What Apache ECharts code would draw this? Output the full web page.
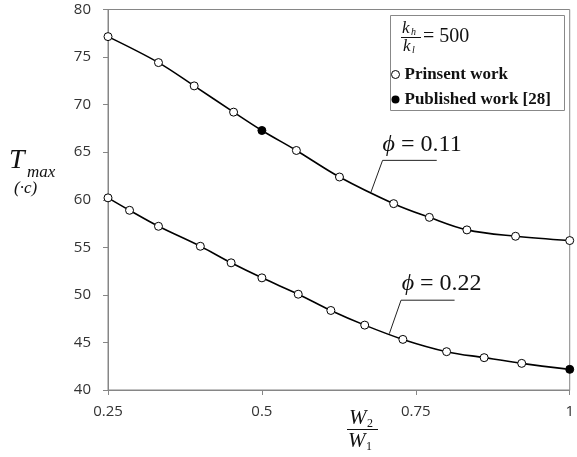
<!DOCTYPE html>
<html>
<head>
<meta charset="utf-8">
<script src="https://cdn.jsdelivr.net/npm/echarts@6/dist/echarts.min.js"></script>
<style>
  html, body { margin: 0; padding: 0; background: #fff; }
  #chart-container { width: 577px; height: 457px; }
</style>
</head>
<body>
<div id="chart-container"></div>
<script>
var dom = document.getElementById("chart-container");
var myChart = echarts.init(dom, null, { renderer: "canvas" });

// W2/W1 ticks and T_max ticks
var xTicks = [0.25, 0.5, 0.75, 1];
var yRange = [40, 80];

// phi = 0.11 curve
var upperX = [0.25, 0.332, 0.39, 0.454, 0.5, 0.556, 0.626, 0.714, 0.772, 0.833, 0.912, 1];
var upperY = [77.15, 74.42, 71.97, 69.21, 67.28, 65.18, 62.39, 59.59, 58.15, 56.83, 56.16, 55.71];

// phi = 0.22 curve
var lowerX = [0.25, 0.285, 0.332, 0.4, 0.45, 0.5, 0.559, 0.612, 0.667, 0.729, 0.8, 0.861, 0.922, 1];
var lowerY = [60.2, 58.89, 57.21, 55.11, 53.37, 51.79, 50.07, 48.36, 46.82, 45.32, 44.03, 43.4, 42.8, 42.17];

// published work [28]
var publishedX = [0.5, 1];
var publishedY = [67.28, 42.17];

// annotation leaders: point on curve, elbow, end of underline
var phiLabels = ["0.11", "0.22"];
var leaders = [
  [[0.677, 60.77], [0.696, 64.14], [0.784, 64.14]],
  [[0.707, 45.92], [0.726, 49.44], [0.813, 49.44]],
];
var labelAnchors = [[0.696, 65.8], [0.727, 51.2]];

function zip(xs, ys) {
  return xs.map(function (x, i) { return [x, ys[i]]; });
}

var axisGray = "#868686";
var serif = "'Liberation Serif', 'DejaVu Serif', serif";

var curveStyle = {
  type: "line",
  name: "Prinsent work",
  smooth: 0.35,
  symbol: "circle",
  symbolSize: 8,
  lineStyle: { color: "#000", width: 1.6 },
  itemStyle: { color: "#fff", borderColor: "#000", borderWidth: 1 },
  z: 3,
};

var series = [
  Object.assign({}, curveStyle, { data: zip(upperX, upperY) }),
  Object.assign({}, curveStyle, { data: zip(lowerX, lowerY) }),
  {
    type: "scatter",
    name: "Published work [28]",
    symbol: "circle",
    symbolSize: 8,
    itemStyle: { color: "#000", opacity: 1 },
    data: zip(publishedX, publishedY),
    z: 5,
  },
];
leaders.forEach(function (pts) {
  series.push({
    type: "line",
    data: pts,
    symbol: "none",
    silent: true,
    lineStyle: { color: "#222", width: 1 },
    z: 2,
  });
});

var option = {
  animation: false,
  grid: {
    left: 108,
    right: 4,
    top: 9.5,
    bottom: 67,
    show: true,
    borderColor: axisGray,
    borderWidth: 1,
  },
  xAxis: {
    type: "value",
    min: xTicks[0],
    max: xTicks[xTicks.length - 1],
    interval: 0.25,
    splitLine: { show: false },
    axisLine: { lineStyle: { color: axisGray } },
    axisTick: { show: true, length: 5, lineStyle: { color: axisGray } },
    axisLabel: {
      color: "#333",
      fontSize: 15,
      fontFamily: "'Open Sans', sans-serif",
      margin: 14,
      formatter: function (v) { return String(v); },
    },
  },
  yAxis: {
    type: "value",
    min: yRange[0],
    max: yRange[1],
    interval: 5,
    splitLine: { show: false },
    axisLine: { show: true, lineStyle: { color: axisGray } },
    axisTick: { show: true, length: 5, lineStyle: { color: axisGray } },
    axisLabel: {
      color: "#333",
      fontSize: 15,
      fontFamily: "'Open Sans', sans-serif",
      margin: 17,
    },
  },
  legend: {
    orient: "vertical",
    left: 386,
    top: 61,
    itemWidth: 8,
    itemHeight: 8,
    itemGap: 8,
    textStyle: { fontFamily: serif, fontSize: 17, fontWeight: "bold", color: "#111" },
    data: [
      { name: "Prinsent work", icon: "circle", itemStyle: { color: "#fff", borderColor: "#000", borderWidth: 1 } },
      { name: "Published work [28]", icon: "circle", itemStyle: { color: "#000", opacity: 1 } },
    ],
  },
  series: series,
};

myChart.setOption(option);

// axis titles, legend frame and curve annotations
var graphics = [
  { type: "rect", shape: { x: 390.5, y: 15.5, width: 174, height: 95 },
    style: { fill: "none", stroke: "#888", lineWidth: 1 }, z: 1 },
  { type: "text", x: 402, y: 20, style: { text: "k", font: "italic 17px " + serif, fill: "#111" } },
  { type: "text", x: 411, y: 27, style: { text: "h", font: "italic 10px " + serif, fill: "#111" } },
  { type: "line", shape: { x1: 401, y1: 37.5, x2: 421, y2: 37.5 }, style: { stroke: "#111", lineWidth: 1 } },
  { type: "text", x: 403, y: 38, style: { text: "k", font: "italic 17px " + serif, fill: "#111" } },
  { type: "text", x: 412, y: 45, style: { text: "l", font: "italic 10px " + serif, fill: "#111" } },
  { type: "text", x: 423, y: 27, style: { text: "= 500", font: "20px " + serif, fill: "#111" } },

  { type: "text", x: 9, y: 147, style: { text: "T", font: "italic 28px " + serif, fill: "#111" } },
  { type: "text", x: 27, y: 164, style: { text: "max", font: "italic 17px " + serif, fill: "#111" } },
  { type: "text", x: 14, y: 180, style: { text: "(\u00b7c)", font: "italic 17px " + serif, fill: "#111" } },

  { type: "text", x: 349, y: 408, style: { text: "W", font: "italic 21px " + serif, fill: "#111" } },
  { type: "text", x: 367, y: 418, style: { text: "2", font: "12px " + serif, fill: "#111" } },
  { type: "line", shape: { x1: 347, y1: 429.5, x2: 378, y2: 429.5 }, style: { stroke: "#111", lineWidth: 1 } },
  { type: "text", x: 348, y: 431, style: { text: "W", font: "italic 21px " + serif, fill: "#111" } },
  { type: "text", x: 366, y: 441, style: { text: "1", font: "12px " + serif, fill: "#111" } },
];

labelAnchors.forEach(function (a, i) {
  var p = myChart.convertToPixel({ gridIndex: 0 }, a);
  graphics.push({
    type: "text",
    x: p[0],
    y: p[1],
    style: {
      text: "{i|\u03d5} = " + phiLabels[i],
      font: "24px " + serif,
      fill: "#111",
      verticalAlign: "middle",
      rich: { i: { font: "italic 24px " + serif, fill: "#111" } },
    },
  });
});

myChart.setOption({ graphic: graphics });

window.addEventListener("resize", myChart.resize);
</script>
</body>
</html>
